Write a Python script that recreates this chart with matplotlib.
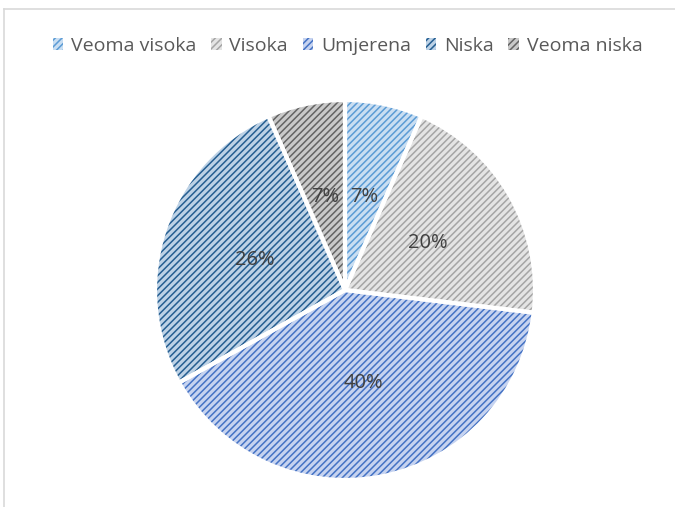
import matplotlib
matplotlib.use("Agg")
import matplotlib.pyplot as plt
from matplotlib.lines import Line2D

categories = ["Veoma visoka", "Visoka", "Umjerena", "Niska", "Veoma niska"]
shares = [6.6, 20.3, 40.0, 26.5, 6.6]

pattern_colors = ["#5b9bd5", "#a5a5a5", "#4472c4", "#255e91", "#636363"]
fill_colors = ["#c9def2", "#e4e4e4", "#c6d3f0", "#bdd2e6", "#c9c9c9"]

plt.rcParams["font.family"] = ["Open Sans", "DejaVu Sans"]
plt.rcParams["hatch.linewidth"] = 1.1

fig = plt.figure(figsize=(6.75, 5.07), dpi=100)
W, H = 675, 507
cx, cy, r = 345, 290, 190
ax = fig.add_axes([(cx - r) / W, (H - cy - r) / H, 2 * r / W, 2 * r / H])

wedges, _, autotexts = ax.pie(
    shares, startangle=90, counterclock=False, autopct="%.0f%%",
    pctdistance=0.5, colors=fill_colors,
    wedgeprops=dict(linewidth=0),
    textprops=dict(color="#404040", fontsize=14.5),
)
for w, pc in zip(wedges, pattern_colors):
    w.set_hatch("/////")
    w.set_edgecolor(pc)
    w.set_linewidth(0)

# white separators on top
ax.pie(shares, startangle=90, counterclock=False,
       wedgeprops=dict(facecolor="none", edgecolor="white", linewidth=3))
for t in autotexts:
    t.set_zorder(5)
ax.set_xlim(-1, 1)
ax.set_ylim(-1, 1)
ax.set_aspect("equal")

fig.legend(wedges, categories, loc="center", bbox_to_anchor=(0.515, 0.909),
           ncol=5, frameon=False, fontsize=14, handlelength=0.55,
           handleheight=0.55, handletextpad=0.4, columnspacing=0.75,
           labelcolor="#595959")

# chart frame (cut off on right and bottom)
fig.add_artist(Line2D([4 / W, 1], [1 - 9 / H, 1 - 9 / H], color="#d9d9d9", lw=1.2))
fig.add_artist(Line2D([4 / W, 4 / W], [0, 1 - 9 / H], color="#d9d9d9", lw=1.2))

fig.savefig("out.png", dpi=100)
